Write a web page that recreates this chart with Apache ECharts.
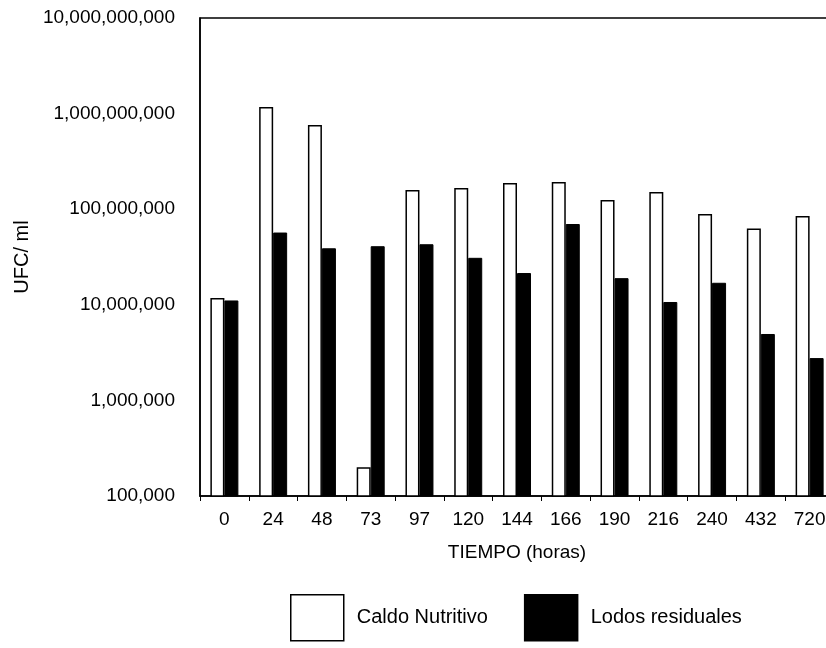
<!DOCTYPE html>
<html>
<head>
<meta charset="utf-8">
<script src="https://cdn.jsdelivr.net/npm/echarts@6/dist/echarts.min.js"></script>
<style>html,body{margin:0;padding:0;background:#fff}#c{width:826px;height:648px}</style>
</head>
<body>
<div id="c"></div>
<script>
const categories = ['0','24','48','73','97','120','144','166','190','216','240','432','720'];
const caldoNutritivo = [1.18e7, 1.17e9, 7.6e8, 2.0e5, 1.59e8, 1.67e8, 1.88e8, 1.93e8, 1.25e8, 1.51e8, 8.9e7, 6.3e7, 8.5e7];
const lodosResiduales = [1.11e7, 5.7e7, 3.9e7, 4.1e7, 4.3e7, 3.1e7, 2.15e7, 7.0e7, 1.9e7, 1.07e7, 1.7e7, 4.95e6, 2.77e6];
const yTicks = [1e5, 1e6, 1e7, 1e8, 1e9, 1e10];

const fam = '"Liberation Sans", Arial, sans-serif';
const chart = echarts.init(document.getElementById('c'), null, {renderer: 'canvas'});
chart.setOption({
  animation: false,
  backgroundColor: '#fff',
  grid: {left: 200, top: 18, width: 634, height: 478, containLabel: false, outerBoundsMode: 'none',
         show: true, borderColor: '#000', borderWidth: 1.5, backgroundColor: 'transparent'},
  legend: {
    left: 290, top: 594, padding: 0, itemWidth: 53, itemHeight: 46, itemGap: 36, icon: 'rect',
    itemStyle: {borderColor: '#000', borderWidth: 1.5},
    textStyle: {fontFamily: fam, fontSize: 20, color: '#000', padding: [0, 0, 0, 8]},
    data: ['Caldo Nutritivo', 'Lodos residuales']
  },
  xAxis: {
    type: 'category', data: categories,
    name: 'TIEMPO (horas)', nameLocation: 'middle', nameGap: 47,
    nameTextStyle: {fontFamily: fam, fontSize: 19, color: '#000'},
    axisLine: {lineStyle: {color: '#000', width: 1.5}},
    axisTick: {show: true, interval: 0, length: 5, lineStyle: {color: '#000'}},
    axisLabel: {fontFamily: fam, fontSize: 19, color: '#000', margin: 14, interval: 0}
  },
  yAxis: {
    type: 'log', logBase: 10, min: yTicks[0], max: yTicks[yTicks.length - 1],
    name: 'UFC/ ml', nameLocation: 'middle', nameGap: 168, nameRotate: 90,
    nameTextStyle: {fontFamily: fam, fontSize: 20, color: '#000'},
    splitLine: {show: false},
    axisLine: {show: true, lineStyle: {color: '#000', width: 1.5}},
    axisTick: {show: false},
    axisLabel: {fontFamily: fam, fontSize: 19, color: '#000', margin: 25,
      formatter: v => Math.round(v).toLocaleString('en-US')}
  },
  series: [
    {name: 'Caldo Nutritivo', type: 'bar', data: caldoNutritivo, barWidth: 14, barGap: '0%',
     itemStyle: {color: '#fff', borderColor: '#000', borderWidth: 1.5}},
    {name: 'Lodos residuales', type: 'bar', data: lodosResiduales, barWidth: 14,
     itemStyle: {color: '#000', borderColor: '#000', borderWidth: 1}}
  ]
});
</script>
</body>
</html>
